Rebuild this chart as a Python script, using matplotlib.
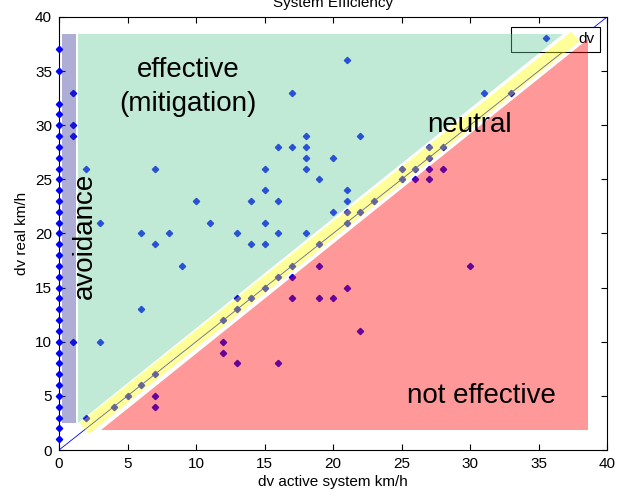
import matplotlib
matplotlib.use("Agg")
import matplotlib.pyplot as plt
from matplotlib.patches import Polygon

plt.rcParams['font.family'] = ['Liberation Sans', 'DejaVu Sans']

# avoidance cases: no active-system speed reduction at all
avoid_y = list(range(1, 33)) + [35, 37]

# remaining cases (dv active system, dv real)
dv_active = [1, 1, 1, 1, 2, 2, 3, 3, 4, 5, 6, 7,
             6, 6, 7, 7, 7, 7, 8, 9, 10, 11,
             12, 12, 12, 13, 13, 13, 13, 14, 14, 14,
             15, 15, 15, 15, 15, 16, 16, 16, 16, 16,
             17, 17, 17, 17, 17, 18, 18, 18, 18, 18,
             19, 19, 19, 19, 20, 20, 20,
             21, 21, 21, 21, 21, 21, 22, 22, 22, 23,
             25, 25, 26, 26, 27, 27, 27, 27, 28, 28,
             30, 31, 33]
dv_real = [33, 30, 29, 10, 26, 3, 21, 10, 4, 5, 6, 7,
           20, 13, 26, 19, 5, 4, 20, 17, 23, 21,
           12, 10, 9, 20, 14, 13, 8, 23, 19, 14,
           26, 24, 21, 19, 15, 28, 23, 20, 16, 8,
           33, 28, 17, 16, 14, 29, 28, 27, 26, 20,
           25, 19, 17, 14, 27, 22, 14,
           36, 24, 23, 22, 21, 15, 29, 22, 11, 23,
           26, 25, 26, 25, 28, 27, 26, 25, 28, 26,
           17, 33, 33]

xs = [0] * len(avoid_y) + dv_active
ys = avoid_y + dv_real

fig = plt.figure(figsize=(6.17, 4.94), dpi=100)
ax = fig.add_axes([59 / 617, 44 / 494, 548 / 617, 433 / 494])

ax.plot([0, 40], [0, 40], color='blue', lw=0.6, zorder=2)
ax.plot(xs, ys, 'D', ls='none', color='blue', ms=3.2, clip_on=False,
        zorder=3, label='dv')

# regions, drawn over the points like in the original
regions = [
    ([(0.2, 2.5), (1.25, 2.5), (1.25, 38.4), (0.2, 38.4)], (0.2, 0.2, 0.6)),
    ([(1.4, 2.45), (1.4, 38.4), (36.8, 38.4)], (0.4, 0.8, 0.6)),
    ([(1.5, 2.5), (2.2, 1.5), (38.0, 37.75), (37.4, 38.65)], (1, 1, 0)),
    ([(3.1, 1.85), (38.6, 1.85), (38.6, 38.0)], (1, 0, 0)),
]
for verts, col in regions:
    ax.add_patch(Polygon(verts, closed=True, facecolor=col, edgecolor='none',
                         alpha=0.4, zorder=5))

ax.text(9.42, 34.5, 'effective', fontsize=20, ha='center', va='baseline', zorder=6)
ax.text(9.42, 31.3, '(mitigation)', fontsize=20, ha='center', va='baseline', zorder=6)
ax.text(30.0, 29.4, 'neutral', fontsize=20, ha='center', va='baseline', zorder=6)
ax.text(30.8, 4.37, 'not effective', fontsize=20, ha='center', va='baseline', zorder=6)
ax.text(2.38, 19.8, 'avoidance', fontsize=20, rotation=90, rotation_mode='anchor',
        ha='center', va='baseline', zorder=6)

ax.set_xlim(0, 40)
ax.set_ylim(0, 40)
ax.set_xticks(range(0, 41, 5))
ax.set_yticks(range(0, 41, 5))
ax.tick_params(direction='in', length=4, top=True, right=True, labelsize=11,
               width=0.8, pad=5)
for s in ax.spines.values():
    s.set_linewidth(0.8)
ax.set_xlabel('dv active system km/h', fontsize=11, labelpad=3)
ax.set_ylabel('dv real km/h', fontsize=11, labelpad=4)

leg = ax.legend(loc='upper right', bbox_to_anchor=((600 - 59) / 548, (450 - 27) / 433),
                borderaxespad=0, fontsize=11, handlelength=3.9, handletextpad=0.2,
                borderpad=0.35, fancybox=False, framealpha=1, edgecolor='black')
leg.get_frame().set_linewidth(0.8)
leg.set_zorder(4)

# title sits partly above the top edge, as in the original
fig.text(333 / 617, 1 - 6.5 / 494, 'System Efficiency', fontsize=11,
         ha='center', va='baseline')

fig.savefig('out.png', dpi=100)
